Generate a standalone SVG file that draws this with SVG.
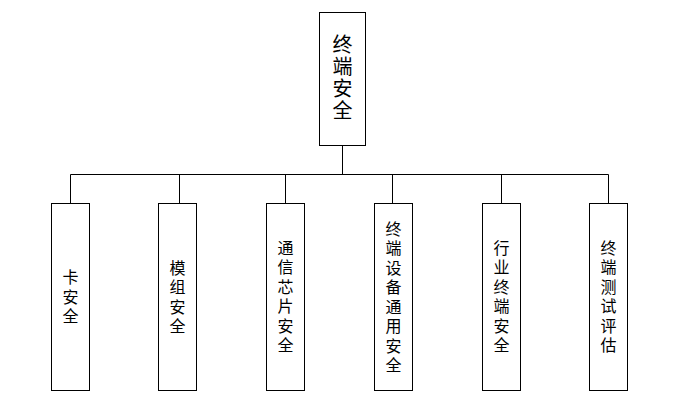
<svg xmlns="http://www.w3.org/2000/svg" width="683" height="419" viewBox="0 0 683 419">
<style>
.box{fill:#fff;stroke:#000;stroke-width:1}
.ln{fill:none;stroke:#000;stroke-width:1}
text{font-family:"Noto Sans CJK SC","Noto Sans",sans-serif;fill:#000;text-anchor:middle;writing-mode:vertical-rl;text-orientation:upright}
.s{font-size:16px;letter-spacing:3.5px}
.t{font-size:20px;letter-spacing:2px}
</style>
<rect width="683" height="419" fill="#fff"/>
<g id="connectors">
<path class="ln" d="M342.5,145 V174.5 M70.5,174.5 H608.5 M70.5,174.5 V203.5 M179.5,174.5 V203.5 M285.5,174.5 V203.5 M392.5,174.5 V203.5 M501.5,174.5 V203.5 M608.5,174.5 V203.5"/>
</g>
<g id="root">
<rect class="box" x="319.5" y="12.5" width="46" height="133"/>
<text class="t" x="342.5" y="78">终端安全</text>
</g>
<g id="n1">
<rect class="box" x="51.5" y="203.5" width="38" height="187"/>
<text class="s" x="70.5" y="298.5">卡安全</text>
</g>
<g id="n2">
<rect class="box" x="158.5" y="203.5" width="38" height="187"/>
<text class="s" x="177.5" y="298.5">模组安全</text>
</g>
<g id="n3">
<rect class="box" x="266.5" y="203.5" width="38" height="187"/>
<text class="s" x="285.5" y="298">通信芯片安全</text>
</g>
<g id="n4">
<rect class="box" x="374.5" y="203.5" width="38" height="187"/>
<text class="s" x="393.5" y="298.5">终端设备通用安全</text>
</g>
<g id="n5">
<rect class="box" x="482.5" y="203.5" width="38" height="187"/>
<text class="s" x="501.5" y="298">行业终端安全</text>
</g>
<g id="n6">
<rect class="box" x="589.5" y="203.5" width="38" height="187"/>
<text class="s" x="608.5" y="298">终端测试评估</text>
</g>
</svg>
